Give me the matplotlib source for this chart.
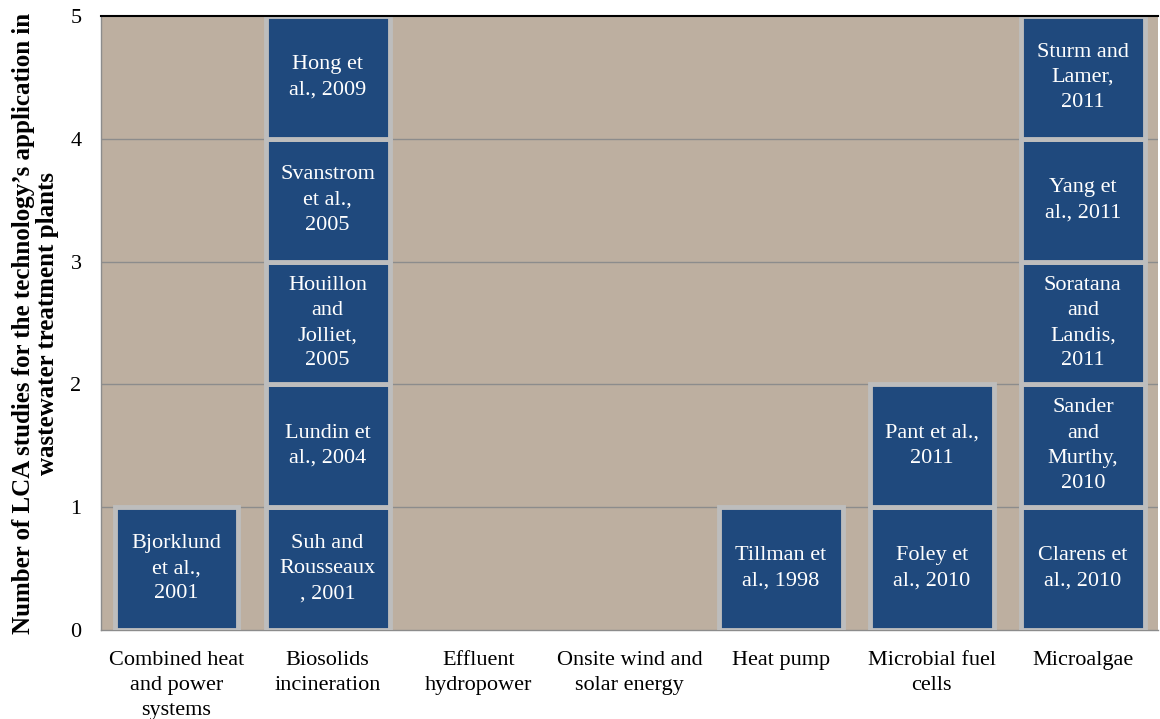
import matplotlib.pyplot as plt

# ===== data =====
categories = [
    "Combined heat\nand power\nsystems",
    "Biosolids\nincineration",
    "Effluent\nhydropower",
    "Onsite wind and\nsolar energy",
    "Heat pump",
    "Microbial fuel\ncells",
    "Microalgae",
]
# one study per unit block, stacked from bottom to top
chp_studies = ["Bjorklund\net al.,\n2001"]
biosolids_studies = ["Suh and\nRousseaux\n, 2001", "Lundin et\nal., 2004",
                     "Houillon\nand\nJolliet,\n2005", "Svanstrom\net al.,\n2005",
                     "Hong et\nal., 2009"]
hydro_studies = []
wind_solar_studies = []
heat_pump_studies = ["Tillman et\nal., 1998"]
mfc_studies = ["Foley et\nal., 2010", "Pant et al.,\n2011"]
algae_studies = ["Clarens et\nal., 2010", "Sander\nand\nMurthy,\n2010",
                 "Soratana\nand\nLandis,\n2011", "Yang et\nal., 2011",
                 "Sturm and\nLamer,\n2011"]
studies = [chp_studies, biosolids_studies, hydro_studies, wind_solar_studies,
           heat_pump_studies, mfc_studies, algae_studies]
y_ticks = [0, 1, 2, 3, 4, 5]

# ===== style =====
BG = "#BDAFA0"
BAR = "#1F497D"
EDGE = "#BDBDBD"
FS = 16
LS = 1.45
plt.rcParams["font.family"] = ["Liberation Serif", "DejaVu Serif"]

fig = plt.figure(figsize=(11.6, 7.19), dpi=100)
ax = fig.add_axes([0.0871, 0.1238, 0.9115, 0.8539])
ax.set_facecolor(BG)

for i, names in enumerate(studies):
    for j, name in enumerate(names):
        ax.bar(i, 1, bottom=j, width=0.82, color=BAR, edgecolor=EDGE,
               linewidth=3.5, zorder=3)
        ax.text(i, j + 0.5, name, color="white", ha="center", va="center",
                fontsize=FS, linespacing=LS, zorder=4)

ax.set_xlim(-0.5, len(categories) - 0.5)
ax.set_ylim(0, 5)
ax.set_yticks(y_ticks)
ax.set_xticks(range(len(categories)))
ax.set_xticklabels(categories, fontsize=FS, va="top", linespacing=LS)
ax.tick_params(axis="both", length=0, labelsize=FS)
ax.tick_params(axis="x", pad=15)
ax.tick_params(axis="y", pad=14)

for y in y_ticks[1:-1]:
    ax.axhline(y, color="#8C8C8C", linewidth=1, zorder=1)
ax.axhline(5, color="black", linewidth=1.5, zorder=5, clip_on=False)

for s in ["right", "top"]:
    ax.spines[s].set_visible(False)
for s in ["left", "bottom"]:
    ax.spines[s].set_color("#8C8C8C")
    ax.spines[s].set_linewidth(1)

ax.set_ylabel("Number of LCA studies for the technology\u2019s application in\n"
              "wastewater treatment plants", fontsize=18, fontweight="bold",
              labelpad=8, linespacing=1.05)

fig.savefig("out.png", dpi=100)
